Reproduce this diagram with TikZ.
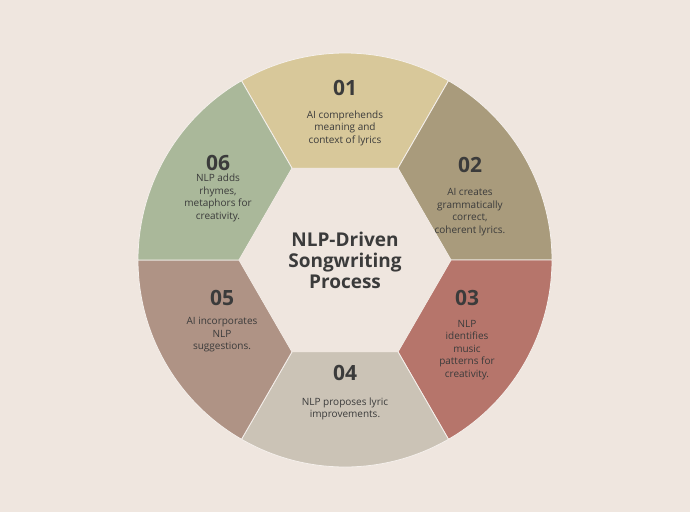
\documentclass[tikz,border=0pt]{standalone}
\usepackage{fontspec}
\setmainfont{Open Sans}
\definecolor{bgc}{HTML}{EFE6DF}
\definecolor{segA}{HTML}{D8C89A}
\definecolor{segB}{HTML}{A99B7C}
\definecolor{segC}{HTML}{B6756B}
\definecolor{segD}{HTML}{CBC3B6}
\definecolor{segE}{HTML}{AF9385}
\definecolor{segF}{HTML}{AAB89A}
\definecolor{txt}{HTML}{3B3B3B}
\tikzset{
  num/.style={font=\fontsize{21}{24}\selectfont\bfseries,text=txt},
  desc/.style={font=\fontsize{10}{12.5}\selectfont,text=txt,align=center},
  seg/.style={draw=bgc!60!white,line width=0.8pt}
}
\begin{document}
\begin{tikzpicture}[x=1pt,y=1pt]
  \fill[bgc] (-345,-252) rectangle (345,260);
  \useasboundingbox (-345,-252) rectangle (345,260);
  % ring segments
  \foreach \a/\c in {60/segA,0/segB,-60/segC,-120/segD,180/segE,120/segF}{
    \filldraw[seg,fill=\c] (\a:106) -- (\a:207) arc[start angle=\a,end angle=\a+60,radius=207]
      -- (\a+60:106) -- cycle;
  }
  \fill[bgc] (0:106) \foreach \k in {1,...,5}{ -- (\k*60:106)} -- cycle;
  \node[font=\fontsize{19}{21}\selectfont\bfseries,text=txt,align=center] (title) at (0,0) {NLP-Driven\\Songwriting\\Process};
  \node[num] (n1) at (0,172) {01};
  \node[desc] (d1) at (0,132) {AI comprehends\\meaning and\\context of lyrics};
  \node[num] (n2) at (125,95) {02};
  \node[desc] (d2) at (125,48) {AI creates\\grammatically\\correct,\\coherent lyrics.};
  \node[num] (n3) at (122,-38) {03};
  \node[desc] (d3) at (122,-90) {NLP\\identifies\\music\\patterns for\\creativity.};
  \node[num] (n4) at (0,-113) {04};
  \node[desc] (d4) at (0,-149) {NLP proposes lyric\\improvements.};
  \node[num] (n5) at (-123,-38) {05};
  \node[desc] (d5) at (-123,-75) {AI incorporates\\NLP\\suggestions.};
  \node[num] (n6) at (-127,97) {06};
  \node[desc] (d6) at (-127,62) {NLP adds\\rhymes,\\metaphors for\\creativity.};
\end{tikzpicture}
\end{document}
